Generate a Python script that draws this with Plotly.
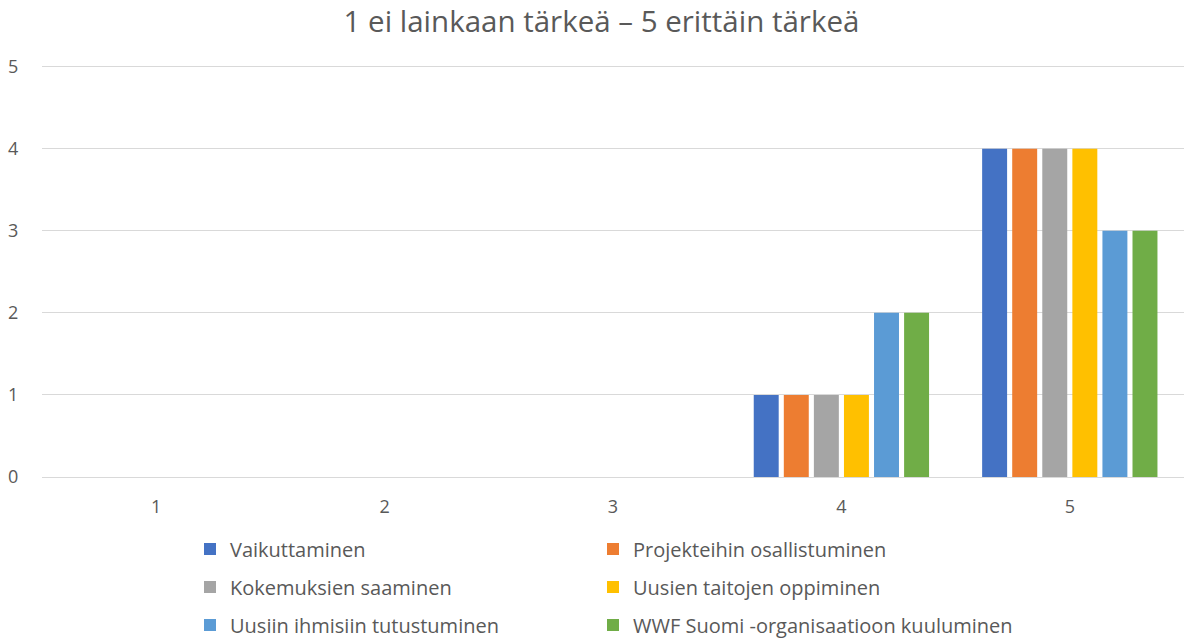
import plotly.graph_objects as go

categories = ["1", "2", "3", "4", "5"]
series_names = [
    "Vaikuttaminen",
    "Projekteihin osallistuminen",
    "Kokemuksien saaminen",
    "Uusien taitojen oppiminen",
    "Uusiin ihmisiin tutustuminen",
    "WWF Suomi -organisaatioon kuuluminen",
]
vaikuttaminen = [0, 0, 0, 1, 4]
projekteihin = [0, 0, 0, 1, 4]
kokemuksien = [0, 0, 0, 1, 4]
taitojen = [0, 0, 0, 1, 4]
ihmisiin = [0, 0, 0, 2, 3]
wwf = [0, 0, 0, 2, 3]
series_values = [vaikuttaminen, projekteihin, kokemuksien, taitojen, ihmisiin, wwf]
colors = ["#4472C4", "#ED7D31", "#A5A5A5", "#FFC000", "#5B9BD5", "#70AD47"]
title_text = "1 ei lainkaan tärkeä – 5 erittäin tärkeä"

FONT = "Open Sans"
TXT = "#595959"

legend_ids = ["legend", "legend2", "legend3", "legend4", "legend5", "legend6"]

fig = go.Figure()
for name, vals, col, lg in zip(series_names, series_values, colors, legend_ids):
    fig.add_trace(go.Bar(
        x=categories, y=vals, name=name, marker_color=col,
        marker_line_width=0, legend=lg,
    ))

row_px = [549, 587, 625]
col_px = [190, 593]
leg_layout = {}
for i, lg in enumerate(legend_ids):
    r, c = divmod(i, 2)
    leg_layout[lg] = dict(
        orientation="h", xref="container", yref="container",
        x=col_px[c] / 1184, xanchor="left",
        y=1 - row_px[r] / 638, yanchor="middle",
        font=dict(family=FONT, size=20, color=TXT),
        bgcolor="rgba(0,0,0,0)", borderwidth=0,
    )

fig.update_layout(
    width=1184, height=638,
    margin=dict(l=42, r=0, t=65, b=161),
    paper_bgcolor="white", plot_bgcolor="white",
    title=dict(text=title_text, x=0.508, xanchor="center", y=1 - 22 / 638, yanchor="middle",
               font=dict(family=FONT, size=29.5, color=TXT)),
    barmode="group", bargap=0.21, bargroupgap=0.17,
    xaxis=dict(
        showgrid=False, showline=True, linecolor="#D9D9D9", linewidth=1.3,
        ticks="outside", ticklen=13, tickcolor="rgba(0,0,0,0)",
        tickfont=dict(family=FONT, size=18, color=TXT),
    ),
    yaxis=dict(
        range=[0, 5.02], tickvals=[0, 1, 2, 3, 4, 5], showgrid=True,
        gridcolor="#D9D9D9", gridwidth=1.3,
        zeroline=False, showline=False,
        ticks="outside", ticklen=19, tickcolor="rgba(0,0,0,0)",
        tickfont=dict(family=FONT, size=18, color=TXT),
    ),
    showlegend=True,
    **leg_layout,
)

fig.write_html("out.html", config={"displayModeBar": False},
               post_script="document.body.style.margin='0';")
